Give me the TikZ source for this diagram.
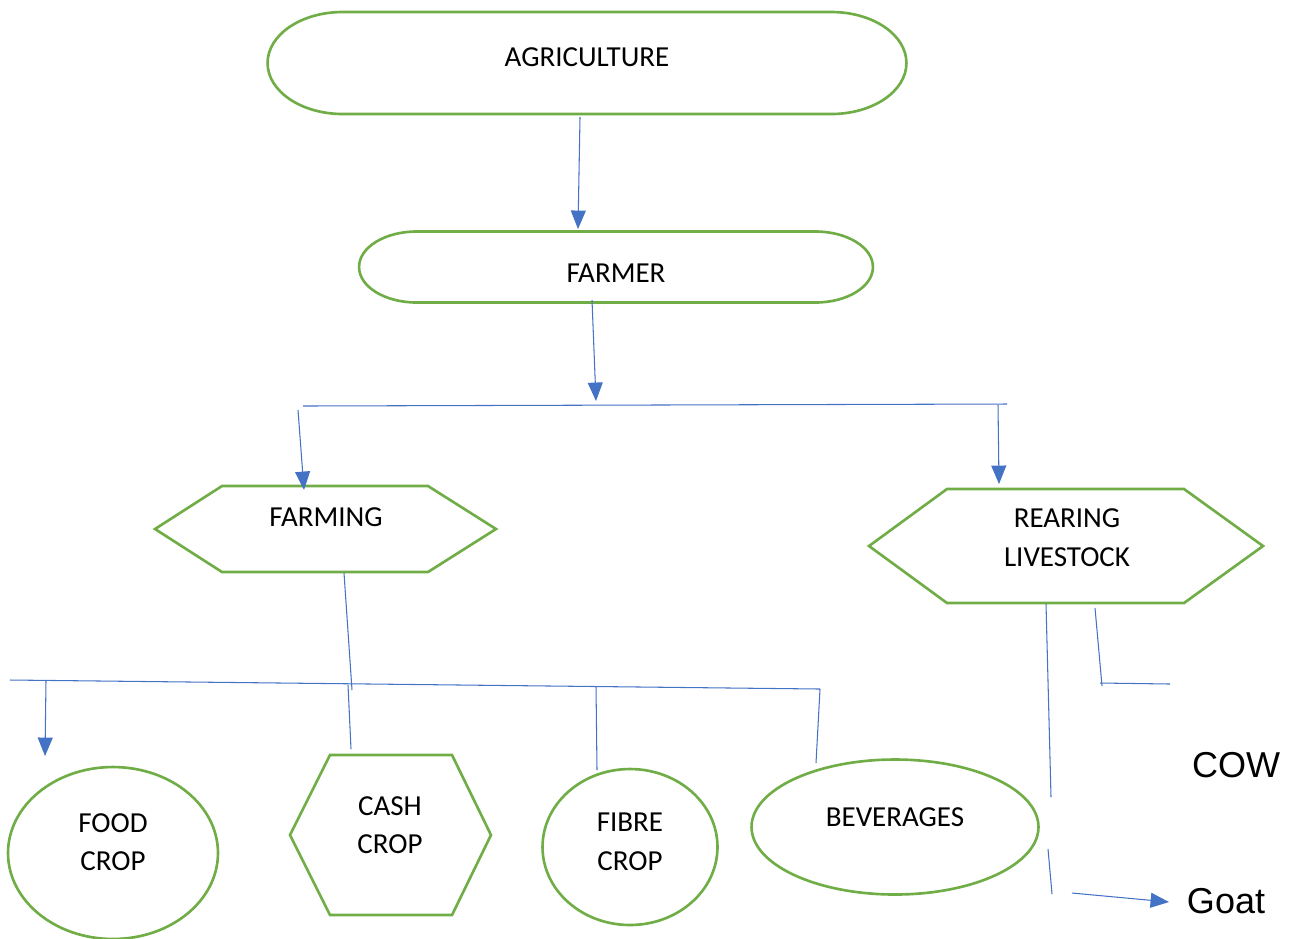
\documentclass[tikz,border=0pt]{standalone}
\usepackage{fontspec}
\setmainfont{Carlito}
\newfontfamily\arialfont{Liberation Sans}
\usetikzlibrary{shapes.geometric,arrows.meta}
\definecolor{leafgreen}{HTML}{70AD47}
\definecolor{linkblue}{HTML}{4472C4}

\begin{document}
\begin{tikzpicture}[x=0.02cm,y=-0.02cm,
		shapeline/.style={draw=leafgreen,line width=1.5pt},
		link/.style={draw=linkblue,line width=0.6pt},
		linkarrow/.style={link,-{Triangle[length=10.5pt,width=8.5pt]},color=linkblue},
		caption/.style={font=\fontsize{16.5}{22}\selectfont,align=center,inner sep=0pt},
		sidetext/.style={font=\arialfont\fontsize{20.5}{24}\selectfont,inner sep=0pt}]
		\useasboundingbox (0,0) rectangle (1290,938);
		% top of the tree
		\node (agri) at (587,63) [rectangle,outer sep=0pt,minimum width=12.78cm,minimum height=2.04cm] {};
		\draw[shapeline] ([xshift=1.5cm]agri.north west)--([xshift=-1.5cm]agri.north east)
			arc[start angle=90,end angle=-90,x radius=1.5cm,y radius=1.02cm]
			--([xshift=1.5cm]agri.south west)
			arc[start angle=-90,end angle=-270,x radius=1.5cm,y radius=1.02cm]--cycle;
		\node (agrilbl) at (587,57) [caption] {AGRICULTURE};
		\node (farmer) at (616,267) [rectangle,outer sep=0pt,minimum width=10.28cm,minimum height=1.42cm] {};
		\draw[shapeline] ([xshift=1.15cm]farmer.north west)--([xshift=-1.15cm]farmer.north east)
			arc[start angle=90,end angle=-90,x radius=1.15cm,y radius=0.71cm]
			--([xshift=1.15cm]farmer.south west)
			arc[start angle=-90,end angle=-270,x radius=1.15cm,y radius=0.71cm]--cycle;
		\node (farmerlbl) at (616,273) [caption] {FARMER};
		% the two branches
		\draw[shapeline] (155,529)--(222,486)--(428,486)--(496,529)--(428,572)--(222,572)--cycle;
		\node (farming) at (326,517) [caption] {FARMING};
		\draw[shapeline] (869,546)--(947,489)--(1184,489)--(1263,546)--(1184,603)--(947,603)--cycle;
		\node (rearing) at (1067,538) [caption] {REARING\\LIVESTOCK};
		% crops
		\node (food) at (113,853) [shapeline,ellipse,minimum width=4.2cm,minimum height=3.44cm] {};
		\node (foodlbl) at (113,842) [caption] {FOOD\\CROP};
		\draw[shapeline] (290,835)--(330,755)--(452,755)--(491,835)--(452,915)--(330,915)--cycle;
		\node (cash) at (390,825) [caption] {CASH\\CROP};
		\node (fibre) at (630,847) [shapeline,ellipse,minimum width=3.5cm,minimum height=3.12cm] {};
		\node (fibrelbl) at (630,842) [caption] {FIBRE\\CROP};
		\node (bev) at (895,827) [shapeline,ellipse,minimum width=5.74cm,minimum height=2.7cm] {};
		\node (bevlbl) at (895,817) [caption] {BEVERAGES};
		% livestock
		\node (cow) at (1236,765) [sidetext] {COW};
		\node (goat) at (1226,901) [sidetext] {Goat};
		% connector ends
		\coordinate (agribot) at (580,117);
		\coordinate (farmertop) at (578,229);
		\coordinate (farmerbot) at (592,300);
		\coordinate (splitmid) at (596,401);
		\coordinate (splitL) at (303,406);
		\coordinate (splitR) at (1007,404);
		\coordinate (farmingin) at (298,410);
		\coordinate (farmingtop) at (304,490);
		\coordinate (rearingin) at (998,405);
		\coordinate (rearingtop) at (999,484);
		\coordinate (farmingbot) at (344,573);
		\coordinate (cropsmid) at (352,690);
		\coordinate (cropsL) at (10,680);
		\coordinate (cropsR) at (820,689);
		\coordinate (foodin) at (46,681);
		\coordinate (foodtop) at (45,756);
		\coordinate (cashin) at (348,685);
		\coordinate (cashtop) at (351,749);
		\coordinate (fibrein) at (596,686);
		\coordinate (fibretop) at (597,770);
		\coordinate (bevtop) at (816,763);
		\coordinate (rearbot) at (1046,604);
		\coordinate (goatgap1) at (1051,797);
		\coordinate (goatgap2) at (1048,849);
		\coordinate (goatcorner) at (1052,894);
		\coordinate (goatstart) at (1072,893);
		\coordinate (goattip) at (1169,902);
		\coordinate (cowbranch) at (1095,608);
		\coordinate (cowcorner) at (1102,686);
		\coordinate (cowstart) at (1100,683);
		\coordinate (cowend) at (1170,684);
		% connectors
		\draw[linkarrow] (agribot)--(farmertop);
		\draw[linkarrow] (farmerbot)--(splitmid);
		\draw[link] (splitL)--(splitR);
		\draw[linkarrow] (farmingin)--(farmingtop);
		\draw[linkarrow] (rearingin)--(rearingtop);
		\draw[link] (farmingbot)--(cropsmid);
		\draw[link] (cropsL)--(cropsR);
		\draw[linkarrow] (foodin)--(foodtop);
		\draw[link] (cashin)--(cashtop);
		\draw[link] (fibrein)--(fibretop);
		\draw[link] (cropsR)--(bevtop);
		\draw[link] (rearbot)--(goatgap1);
		\draw[link] (goatgap2)--(goatcorner);
		\draw[linkarrow] (goatstart)--(goattip);
		\draw[link] (cowbranch)--(cowcorner);
		\draw[link] (cowstart)--(cowend);
	\end{tikzpicture}
\end{document}
